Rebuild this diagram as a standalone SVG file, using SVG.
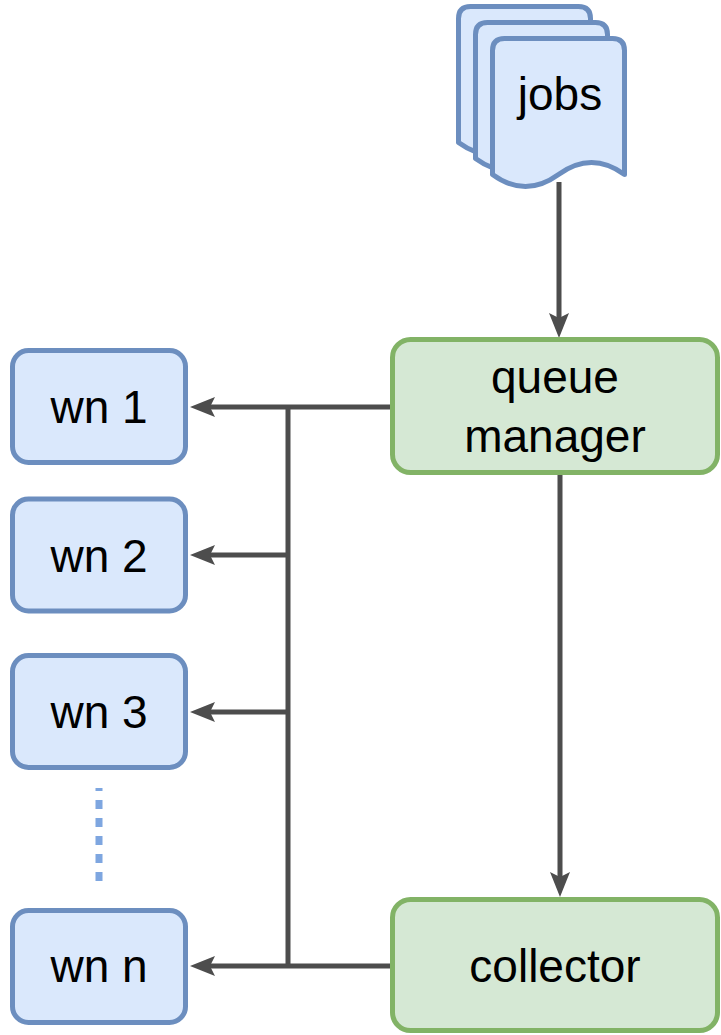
<svg xmlns="http://www.w3.org/2000/svg" width="721" height="1035" viewBox="0 0 721 1035">
<style>
.wn{fill:#dae8fc;stroke:#6c8ebf;stroke-width:5}
.gr{fill:#d5e8d4;stroke:#82b366;stroke-width:5}
.doc{fill:#dae8fc;stroke:#6c8ebf;stroke-width:5;stroke-linejoin:round}
.t{font-family:"Liberation Sans",Arial,Helvetica,sans-serif;font-size:46px;fill:#000;text-anchor:middle}
.c{fill:none;stroke:#4d4d4d;stroke-width:5}
.a{marker-end:url(#arr)}
</style>
<defs>
<marker id="arr" markerUnits="userSpaceOnUse" viewBox="0 0 25 20" refX="5" refY="10" markerWidth="25" markerHeight="20" orient="auto">
<path d="M0,0 L25,10 L0,20 L5,10 z" fill="#4d4d4d"/>
</marker>
<path id="page" d="M0,12 Q0,0 12,0 L120,0 Q132,0 132,12 L132,136 Q99,112 66,136 Q33,160 0,136 Z"/>
</defs>
<g id="connectors">
<path class="c a" d="M559,182 V318"/>
<path class="c a" d="M560,475 V877"/>
<path class="c a" d="M390,407 H210"/>
<path class="c" d="M288,407 V966"/>
<path class="c a" d="M288,555 H210"/>
<path class="c a" d="M288,712 H210"/>
<path class="c a" d="M390,966 H210"/>
<line x1="99" y1="788" x2="99" y2="881" stroke="#7ea6e0" stroke-width="7" stroke-dasharray="9 9" stroke-dashoffset="6"/>
</g>
<g id="jobs">
<use href="#page" class="doc" x="458.5" y="6.5"/>
<use href="#page" class="doc" x="475.5" y="22.5"/>
<use href="#page" class="doc" x="492.5" y="38.5"/>
<text class="t" x="560" y="110">jobs</text>
</g>
<g id="queue-manager">
<rect class="gr" x="392.5" y="339.5" width="325" height="133" rx="18"/>
<text class="t" x="555" y="393">queue</text>
<text class="t" x="555" y="452">manager</text>
</g>
<g id="collector">
<rect class="gr" x="392.5" y="899.5" width="325" height="131" rx="18"/>
<text class="t" x="555" y="982">collector</text>
</g>
<g id="wn1">
<rect class="wn" x="12.5" y="350.5" width="173" height="112" rx="16"/>
<text class="t" x="99" y="423">wn 1</text>
</g>
<g id="wn2">
<rect class="wn" x="12.5" y="499" width="173" height="112" rx="16"/>
<text class="t" x="99" y="571.5">wn 2</text>
</g>
<g id="wn3">
<rect class="wn" x="12.5" y="655.5" width="173" height="112" rx="16"/>
<text class="t" x="99" y="728">wn 3</text>
</g>
<g id="wnn">
<rect class="wn" x="12.5" y="910.5" width="173" height="112" rx="16"/>
<text class="t" x="99" y="982">wn n</text>
</g>
</svg>
